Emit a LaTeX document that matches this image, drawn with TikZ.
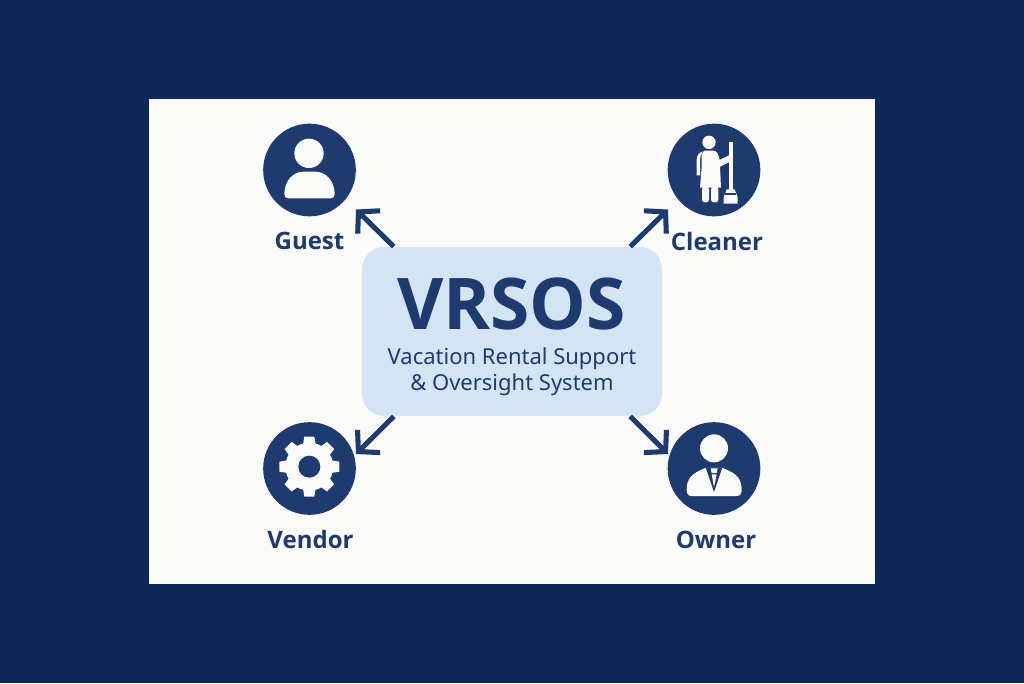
\documentclass[tikz,border=0pt]{standalone}
\usepackage{fontspec}
\setmainfont{Noto Sans}
\newfontfamily\labelfont{Open Sans}
\usetikzlibrary{arrows.meta}
\definecolor{pagenavy}{HTML}{10275A}
\definecolor{panelwhite}{HTML}{FAFAF9}
\definecolor{iconnavy}{HTML}{1E3A6E}
\definecolor{boxblue}{HTML}{D3E5F5}
\tikzset{
  iconcircle/.style={circle, fill=iconnavy, minimum size=69.5pt, inner sep=0pt},
  iconlabel/.style={text=iconnavy, font=\labelfont\fontsize{18}{22}\selectfont\bfseries, inner sep=0pt},
  link/.style={iconnavy, line width=3.8pt, -{Straight Barb[length=11pt,width=24pt,line width=3.8pt]}},
  zoomed/.style={x=.25pt, y=-.25pt}
}

\begin{document}
\begin{tikzpicture}[x=.75pt, y=-.75pt]
  % Background and panel
  \fill[pagenavy] (0,0) rectangle (1024,683);
  \fill[panelwhite] (149,99) rectangle (875,584);

  % Central box
  \node[fill=boxblue, rounded corners=17pt, minimum width=225pt, minimum height=127pt, inner sep=0pt] (vrsos) at (512,331.5) {};
  \node[text=iconnavy, font=\labelfont\fontsize{53.5}{60}\selectfont\bfseries, inner sep=0pt] (vrsostitle) at (511.5,304) {VRSOS};
  \node[text=iconnavy, font=\fontsize{16.5}{19.5}\selectfont, align=center, inner sep=0pt] (vrsostext) at (512,372) {Vacation Rental Support\\\& Oversight System};

  % Circles
  \node[iconcircle] (guest) at (309.5,170) {};
  \node[iconcircle] (cleaner) at (714,170) {};
  \node[iconcircle] (vendor) at (309.5,468.5) {};
  \node[iconcircle] (owner) at (714,468.5) {};

  % Labels
  \node[iconlabel] (guestlabel) at (309.5,241) {Guest};
  \node[iconlabel] (cleanerlabel) at (717,241) {Cleaner};
  \node[iconlabel] (vendorlabel) at (310.5,539.5) {Vendor};
  \node[iconlabel] (ownerlabel) at (716,539.5) {Owner};

  % Arrows
  \coordinate (guesttip) at (356,209.5);
  \coordinate (cleanertip) at (668,209.5);
  \coordinate (vendortip) at (356,454);
  \coordinate (ownertip) at (668,454);
  \draw[link] ([xshift=24pt]vrsos.north west) -- (guesttip);
  \draw[link] ([xshift=-24pt]vrsos.north east) -- (cleanertip);
  \draw[link] ([xshift=24pt]vrsos.south west) -- (vendortip);
  \draw[link] ([xshift=-24pt]vrsos.south east) -- (ownertip);

  % Guest icon
  \begin{scope}[shift={(250,110)}, zoomed]
    \fill[panelwhite] (177,130) circle (44);
    \fill[panelwhite] (103,252) .. controls (103,212) and (130,185) .. (160,185) -- (196,185)
      .. controls (227,185) and (254,212) .. (254,252)
      .. controls (254,261) and (249,265) .. (242,265) -- (115,265)
      .. controls (107,265) and (103,261) .. (103,252) -- cycle;
  \end{scope}

  % Cleaner icon
  \begin{scope}[shift={(620,110)}, zoomed]
    \fill[panelwhite] (267,97) circle (20);
    % Dress and right arm
    \fill[panelwhite] (252,122) -- (282,122) .. controls (292,124) and (296,135) .. (299,150) -- (327,136) -- (337,152) -- (300,170) -- (303,233) -- (240,233) -- (245,170) -- (245,135) -- cycle;
    % Left arm
    \fill[panelwhite] (248,124) .. controls (236,128) and (230,138) .. (230,150) -- (230,196) -- (240,196) -- (240,155) -- (241,140) -- cycle;
    % Legs
    \fill[panelwhite, rounded corners=2pt] (246,230) -- (267,230) -- (267,277) -- (246,277) -- cycle;
    \fill[panelwhite, rounded corners=2pt] (273,230) -- (295,230) -- (295,277) -- (273,277) -- cycle;
    % Broom
    \fill[panelwhite] (326,97) rectangle (338,240);
    \fill[panelwhite] (320,238) -- (344,238) -- (353,262) -- (353,281) -- (311,281) -- (311,262) -- cycle;
    \fill[iconnavy] (316,250) rectangle (348,254);
  \end{scope}

  % Vendor icon
  \begin{scope}[shift={(250,410)}, zoomed]
    \fill[panelwhite] (178,170) circle (72);
    \foreach \a in {0,45,...,315} {
      \fill[panelwhite, rotate around={\a:(178,170)}] (158,110) -- (163,80) -- (193,80) -- (198,110) -- cycle;
    }
    \fill[iconnavy] (178,170) circle (33);
  \end{scope}

  % Owner icon
  \begin{scope}[shift={(620,410)}, zoomed]
    \fill[panelwhite] (282,115) circle (42);
    \fill[panelwhite] (200,240) .. controls (200,205) and (215,190) .. (258,173) -- (306,173)
      .. controls (350,190) and (365,205) .. (365,240)
      .. controls (365,252) and (360,258) .. (350,258) -- (215,258)
      .. controls (205,258) and (200,252) .. (200,240) -- cycle;
    \fill[iconnavy] (257,172) -- (307,172) -- (282,246) -- cycle;
    \fill[panelwhite] (272,175) -- (293,175) -- (290,189) -- (275,189) -- cycle;
    \fill[panelwhite] (275,193) -- (290,193) -- (282,232) -- cycle;
  \end{scope}
\end{tikzpicture}
\end{document}
